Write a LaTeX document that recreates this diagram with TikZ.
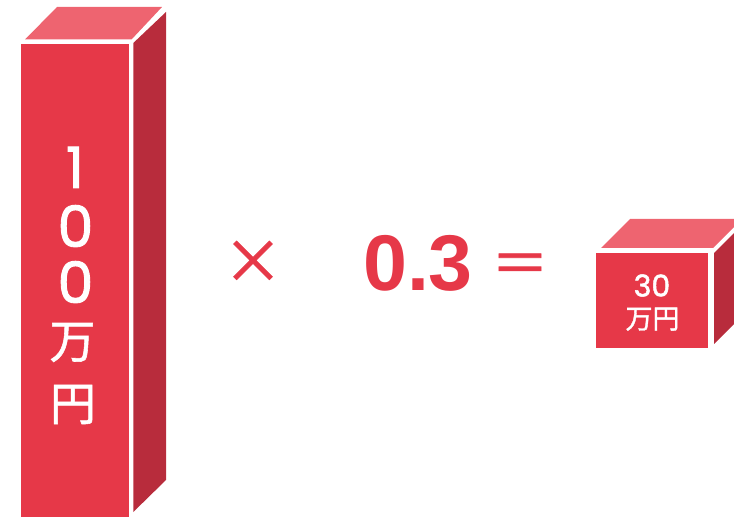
\documentclass[tikz,border=0pt]{standalone}
\usepackage{fontspec}
\newfontfamily\jp{Noto Sans CJK JP}
\newfontfamily\jpm[FakeBold=1.2]{Noto Sans CJK JP}
\newfontfamily\arb{Liberation Sans}
\newfontfamily\pop[FakeBold=1.6]{Poppins}
\definecolor{frontc}{HTML}{E63848}
\definecolor{topc}{HTML}{EE6470}
\definecolor{sidec}{HTML}{B82C3C}
\tikzset{
  front/.style={fill=frontc},
  topf/.style={fill=topc},
  side/.style={fill=sidec},
  wlabel/.style={text=white, inner sep=0pt, font=\jp},
  rlabel/.style={text=frontc, inner sep=0pt, font=\jp},
}
\begin{document}
\begin{tikzpicture}[x=1pt,y=-1pt]
\useasboundingbox (0,0) rectangle (734,518);
% tall box
\fill[front] (20.5,44) -- (128.5,44) -- (128.5,516.5) -- (20.5,516.5) -- cycle;
\fill[topf] (25,39.5) -- (131.5,39.5) -- (162,7) -- (57,7) -- cycle;
\fill[side] (133.3,43) -- (166,12) -- (166,480) -- (133.3,512) -- cycle;
% small box
\fill[front] (596,253) -- (708,253) -- (708,348) -- (596,348) -- cycle;
\fill[topf] (601,248) -- (713,248) -- (742,219) -- (630,219) -- cycle;
\fill[side] (714,253) -- (743,224) -- (743,315) -- (714,344) -- cycle;
% labels tall
\node[wlabel, anchor=base, font=\pop\fontsize{57}{57}\selectfont] (d1) at (75,188) {1};
\node[wlabel, anchor=base, font=\pop\fontsize{57}{57}\selectfont] (d2) at (75.5,247) {0};
\node[wlabel, anchor=base, font=\pop\fontsize{57}{57}\selectfont] (d3) at (75.5,303) {0};
\node[wlabel, font=\jpm\fontsize{46}{46}\selectfont] (man) at (72.5,342.5) {万};
\node[wlabel, font=\jpm\fontsize{46}{46}\selectfont] (en) at (73,404.5) {円};
% operators
\node[rlabel, font=\jpm\fontsize{60}{60}\selectfont] (times) at (253,262) {×};
\node[rlabel, anchor=base, font=\arb\bfseries\fontsize{79}{79}\selectfont] (factor) at (418,290.5) {0.3};
\node[rlabel, font=\jpm\fontsize{58}{58}\selectfont] (eq) at (520,269) {＝};
% labels small
\node[wlabel, anchor=base, text depth=0pt, font=\pop\fontsize{30}{30}\selectfont] (s30) at (652,296.5) {30};
\node[wlabel, anchor=base, text height=21pt, text depth=1pt, font=\jpm\fontsize{27}{27}\selectfont] (sman) at (652.5,328.5) {万円};
\end{tikzpicture}
\end{document}
